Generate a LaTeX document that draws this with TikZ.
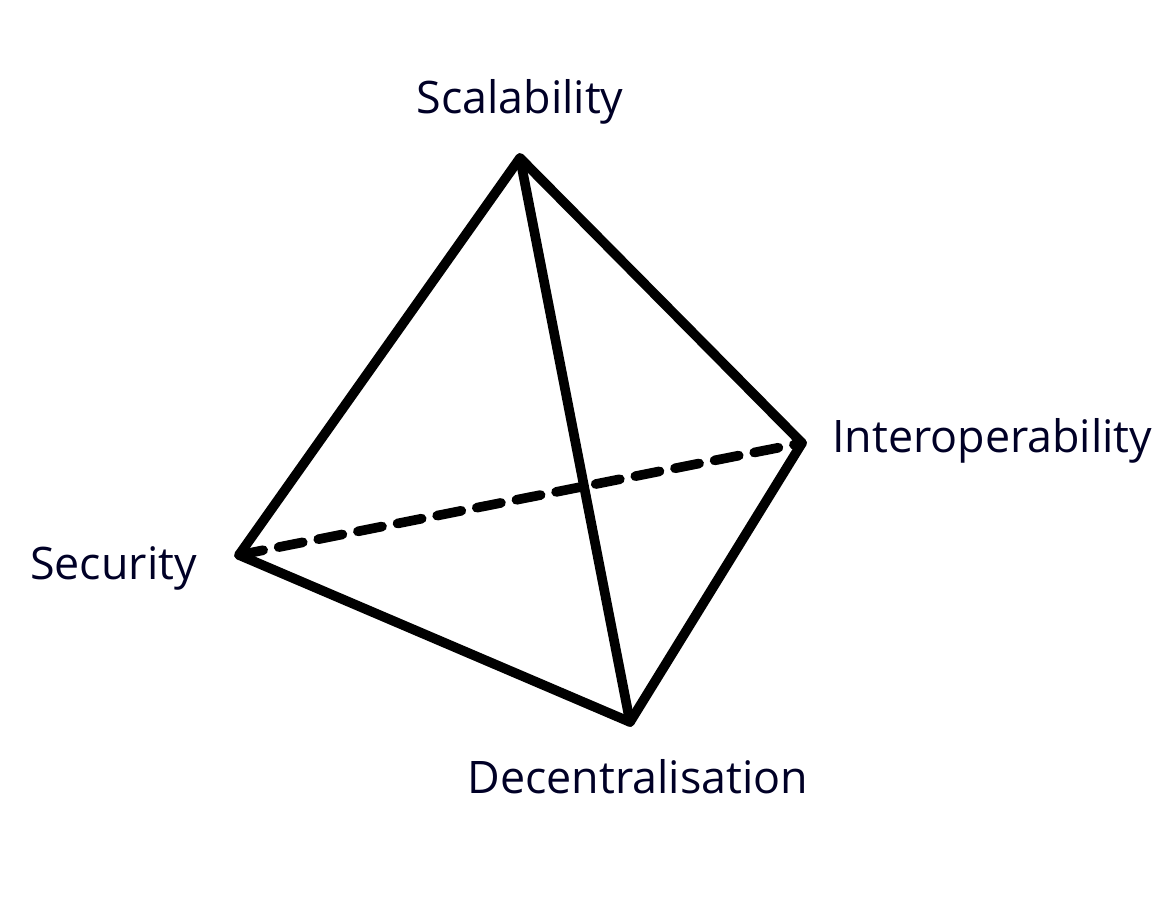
\documentclass[tikz,border=0pt]{standalone}
\usepackage{fontspec}
\setmainfont{Open Sans}
\begin{document}
\begin{tikzpicture}[x=0.02cm,y=-0.02cm,
    edge/.style={line width=5.5pt,line cap=round,line join=round},
    lbl/.style={font=\fontsize{25.5}{30}\selectfont,text=black!85!blue}]
    \useasboundingbox (0,0) rectangle (1162,910);

    % Corners
    \coordinate (sca) at (520,158);
    \coordinate (int) at (802,443);
    \coordinate (sec) at (239,555);
    \coordinate (dec) at (630,722);

    % Hidden edge
    \draw[edge,dash pattern=on 14pt off 9pt] (sec) -- (int);

    % Edges
    \draw[edge] (sca) -- (sec) -- (dec) -- (int) -- cycle;
    \draw[edge] (sca) -- (dec);

    % Labels
    \node[lbl] (lsca) at (520,102) {Scalability};
    \node[lbl,anchor=west] (lint) at (826,441) {Interoperability};
    \node[lbl,anchor=east] (lsec) at (203,568) {Security};
    \node[lbl] (ldec) at (638,777) {Decentralisation};
\end{tikzpicture}
\end{document}
